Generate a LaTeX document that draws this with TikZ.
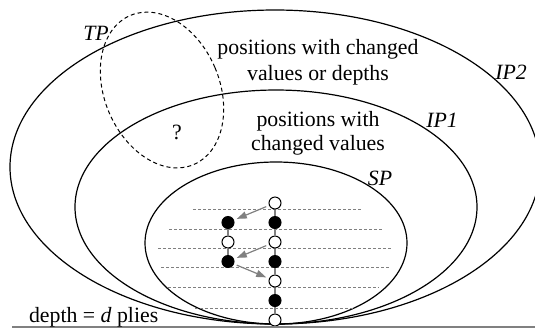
\documentclass[tikz,border=0pt]{standalone}
\usepackage{fontspec}
\setmainfont{Liberation Serif}
\usetikzlibrary{arrows.meta}

\begin{document}
\begin{tikzpicture} [
    x=0.5pt, y=-0.5pt,
    set/.style={draw, line width=0.6pt},
    level/.style={draw=gray, dash pattern=on 1.5pt off 1pt, line width=0.5pt},
    open/.style={circle, draw, fill=white, inner sep=0pt, minimum size=6pt, line width=0.5pt},
    full/.style={circle, draw, fill=black, inner sep=0pt, minimum size=6pt, line width=0.5pt},
    chain/.style={draw=gray, line width=1pt},
    move/.style={draw=gray, line width=0.6pt, -{Triangle[length=5pt,width=3.5pt]}, shorten <=1.5pt, shorten >=1.5pt},
    tag/.style={font=\fontsize{10.9}{13}\selectfont\itshape},
    txt/.style={font=\fontsize{10.9}{13}\selectfont, align=center}
]
\useasboundingbox (0,0) rectangle (535,328);
\clip (0,0) rectangle (535,328);

% Position sets
\draw[set] (275,167) ellipse [x radius=132.5pt, y radius=78.5pt];
\draw[set] (276,207) ellipse [x radius=100.5pt, y radius=58.5pt];
\draw[set] (276,243) ellipse [x radius=65.5pt, y radius=40.5pt];
\draw[line width=0.5pt, dash pattern=on 2pt off 1.5pt, rotate around={23:(162,90)}] (162,90) ellipse [x radius=28.75pt, y radius=40.5pt];

% Depth levels
\draw[level] (193,209) -- (361,209);
\draw[level] (169,229) -- (383,229);
\draw[level] (158,248) -- (391,248);
\draw[level] (161,267) -- (389,267);
\draw[level] (168,287) -- (379,287);
\draw[level] (195,308) -- (355,308);

% Search path
\node[open] (r1) at (275,203) {};
\node[full] (r2) at (275,222.5) {};
\node[open] (r3) at (275,242) {};
\node[full] (r4) at (275,261.5) {};
\node[open] (r5) at (275,281) {};
\node[full] (r6) at (275,300.5) {};
\node[open] (r7) at (275,320) {};
\node[full] (l2) at (228,222.5) {};
\node[open] (l3) at (228,242) {};
\node[full] (l4) at (228,261.5) {};

% Connections
\draw[chain] (r1) -- (r2) -- (r3) -- (r4) -- (r5) -- (r6) -- (r7);
\draw[chain] (l2) -- (l3) -- (l4);
\draw[move] (r1) -- (l2);
\draw[move] (r3) -- (l4);
\draw[move] (l4) -- (r5);

% Baseline
\draw[gray, line width=0.8pt] (12,327) -- (535,327);

% Labels
\node[tag] (tp) at (96,33) {TP};
\node[tag] (ip2) at (511,72) {IP2};
\node[tag] (ip1) at (442,120) {IP1};
\node[tag] (sp) at (380,178) {SP};
\node[txt] (unk) at (177,132) {?};
\node[txt] (outer) at (318,62) {positions with changed\\values or depths};
\node[txt, font=\fontsize{10.9}{12.2}\selectfont] (inner) at (318,133) {positions with\\changed values};
\node[txt, anchor=base west] (depth) at (22,322) {depth = \textit{d} plies};

\end{tikzpicture}
\end{document}
